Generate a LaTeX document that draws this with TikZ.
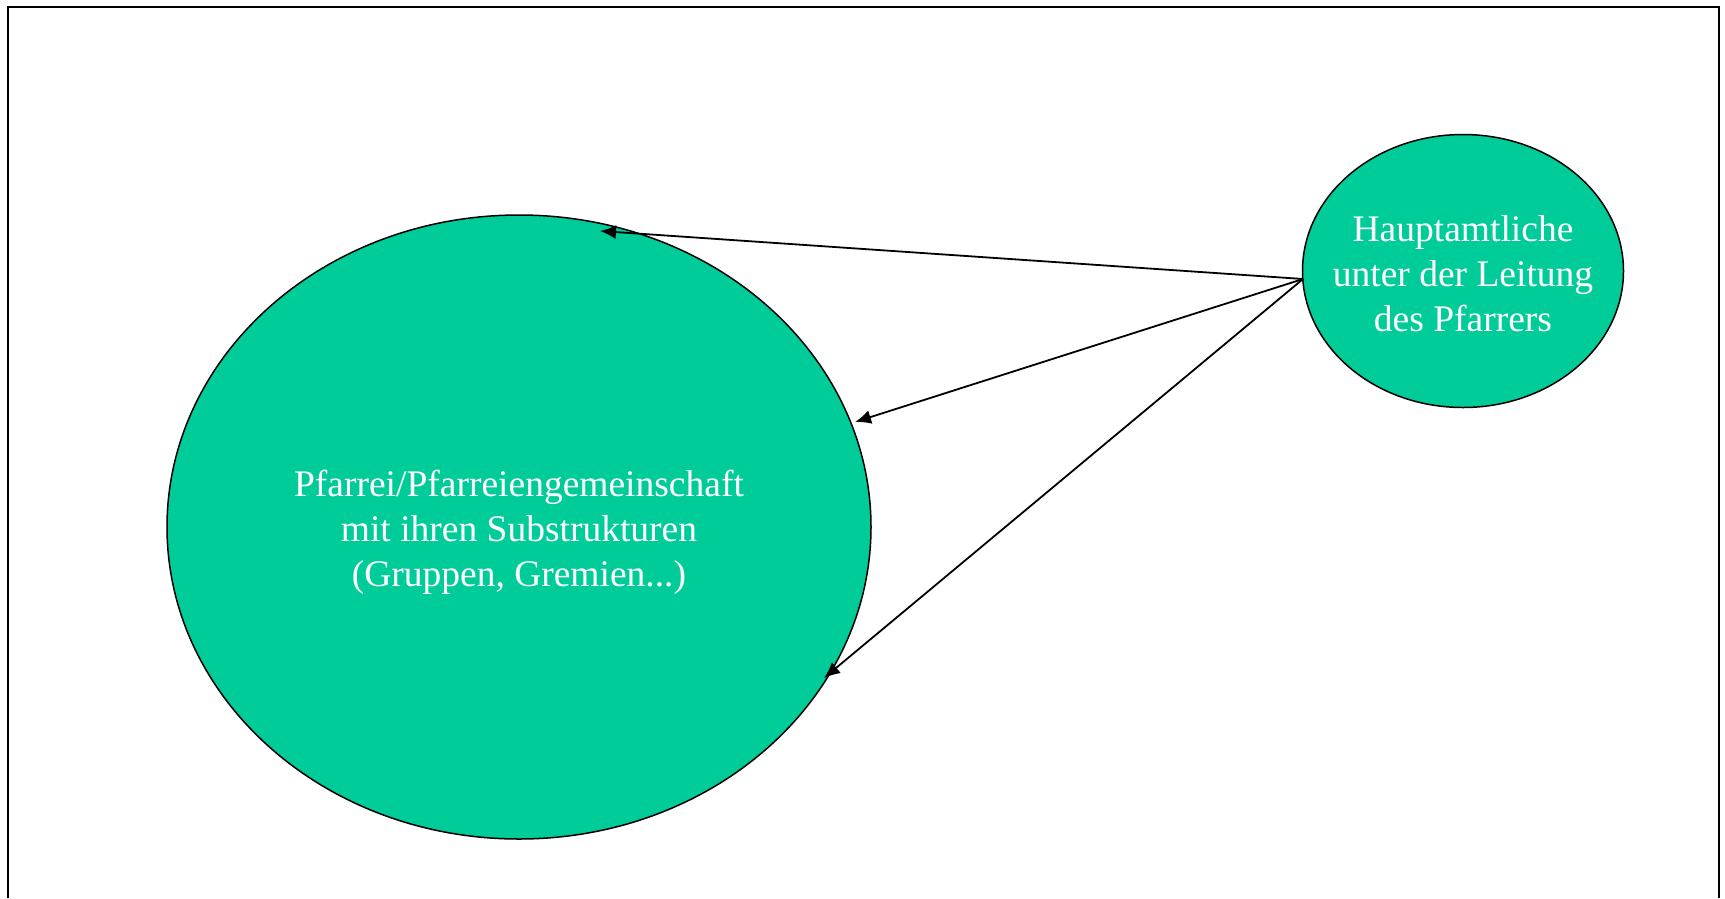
\documentclass[tikz,border=0pt]{standalone}
\usepackage{fontspec}
\setmainfont{Liberation Serif}
\usetikzlibrary{shapes.geometric,arrows.meta}
\definecolor{pgreen}{HTML}{00CC99}
\tikzset{
  blob/.style={ellipse, draw=black, line width=1.5pt, fill=pgreen, inner sep=0pt},
  label text/.style={text=white, align=center, inner sep=0pt, font=\fontsize{37.5}{45}\selectfont},
  link/.style={draw=black, line width=1.8pt, -{Latex[length=16pt,width=14pt]}},
  frame/.style={draw=black, line width=2pt}
}
\begin{document}
\begin{tikzpicture}[x=1pt,y=-1pt]
\useasboundingbox (0,0) rectangle (1725,898);
\draw[frame] (7.5,898) -- (7.5,7) -- (1719,7) -- (1719,898);
\node[blob, minimum width=704pt, minimum height=624pt] (pf) at (519,527) {};
\node[label text] (pft) at (519,532.5)
  {Pfarrei/Pfarreiengemeinschaft\\mit ihren Substrukturen\\(Gruppen, Gremien...)};
\node[blob, minimum width=321pt, minimum height=273pt] (hb) at (1463,271) {};
\node[label text] (hbt) at (1463,274)
  {Hauptamtliche\\unter der Leitung\\des Pfarrers};
\coordinate (src) at (1303,279);
\coordinate (t1) at (600,231);
\coordinate (t2) at (855,422);
\coordinate (t3) at (824,678);
\draw[link] (src) -- (t1);
\draw[link] (src) -- (t2);
\draw[link] (src) -- (t3);
\end{tikzpicture}
\end{document}
